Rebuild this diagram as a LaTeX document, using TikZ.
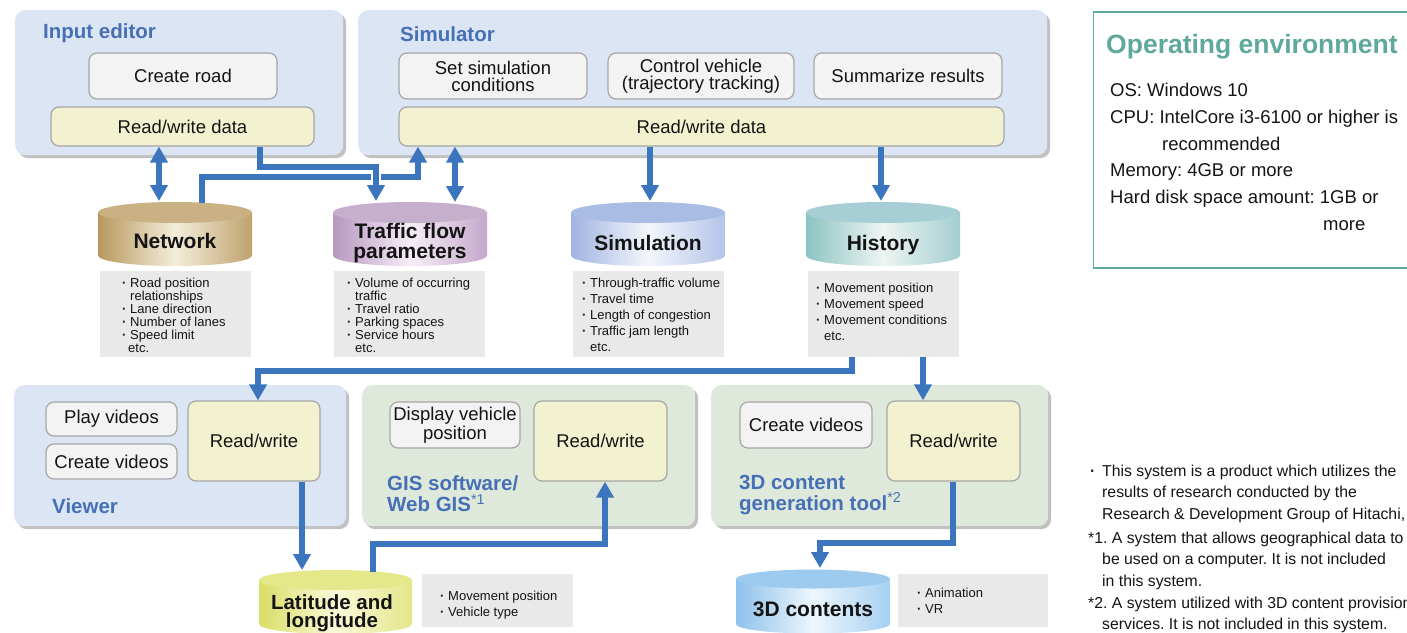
\documentclass[tikz,border=0pt]{standalone}
\usepackage{fontspec}
\setmainfont{Liberation Sans}
\usetikzlibrary{arrows.meta,shadows,calc}
\frenchspacing
\setlength{\lineskiplimit}{-20pt}
\definecolor{panelblue}{HTML}{DCE5F4}
\definecolor{panelgreen}{HTML}{DFE9DB}
\definecolor{boxgray}{HTML}{F3F3F3}
\definecolor{boxline}{HTML}{A6A6A6}
\definecolor{boxyellow}{HTML}{F2F2D1}
\definecolor{titleblue}{HTML}{4670B6}
\definecolor{arrowblue}{HTML}{3A75BE}
\definecolor{listgray}{HTML}{E9E9E9}
\definecolor{envteal}{HTML}{5EA89D}
\definecolor{envline}{HTML}{62AAA0}
\definecolor{ink}{HTML}{141414}
% cylinder colours
\definecolor{netTop}{HTML}{C9B184}\definecolor{netL}{HTML}{B8995E}\definecolor{netM}{HTML}{F4EDDB}\definecolor{netR}{HTML}{BFA26E}
\definecolor{tfTop}{HTML}{C6AECD}\definecolor{tfL}{HTML}{B796C0}\definecolor{tfM}{HTML}{F6EEF6}\definecolor{tfR}{HTML}{C4A8CC}
\definecolor{simTop}{HTML}{A9BDE4}\definecolor{simL}{HTML}{A0B4E0}\definecolor{simM}{HTML}{F4F6FC}\definecolor{simR}{HTML}{B4C4E8}
\definecolor{hisTop}{HTML}{A7CED4}\definecolor{hisL}{HTML}{8CC3C1}\definecolor{hisM}{HTML}{EEF5F3}\definecolor{hisR}{HTML}{A2CDD0}
\definecolor{latTop}{HTML}{E4E78A}\definecolor{latL}{HTML}{DADD66}\definecolor{latM}{HTML}{FAFADA}\definecolor{latR}{HTML}{E4E68A}
\definecolor{tdTop}{HTML}{9CCBEF}\definecolor{tdL}{HTML}{8DC1EC}\definecolor{tdM}{HTML}{EEF6FD}\definecolor{tdR}{HTML}{A6D0F2}

\newcommand{\fz}[2]{\fontsize{#1}{#2}\selectfont}
\newcommand{\tstrut}{\rule{0pt}{0.7\baselineskip}}
\newcommand{\bl}{\makebox[8pt][l]{\textbf{·}}}
\newcommand{\ind}{\hspace*{8pt}}
% cx, half width, top centre y, bottom centre y, ry, top colour, left, mid, right
\newcommand{\cylndr}[9]{%
  \shade[left color=#7, right color=#9, middle color=#8]
    ({#1-#2},#3) -- ({#1-#2},#4) arc[start angle=180, end angle=360, x radius=#2pt, y radius=#5pt]
    -- ({#1+#2},#3) -- cycle;
  \fill[#6] (#1,#3) ellipse[x radius=#2pt, y radius=#5pt];}

\begin{document}
\begin{tikzpicture}[x=1pt,y=-1pt,
  panelB/.style={fill=panelblue, rounded corners=10pt, inner sep=0, anchor=north west,
     drop shadow={shadow xshift=3pt, shadow yshift=-3pt, opacity=0.35, fill=black!70}},
  panelG/.style={panelB, fill=panelgreen},
  gbox/.style={draw=boxline, line width=1.2pt, fill=boxgray, rounded corners=8pt, inner sep=0,
     align=center, text=ink, font=\fz{18.5}{17}},
  ybox/.style={gbox, fill=boxyellow},
  ttl/.style={anchor=base west, inner sep=0, text=titleblue, font=\fz{20.5}{21}\bfseries},
  lst/.style={fill=listgray, inner sep=0, anchor=north west},
  ltx/.style={anchor=north west, inner sep=0, align=left, text=ink},
  cyl/.style={inner sep=0, align=center, text=ink, font=\fz{21}{20}\bfseries},
  arr/.style={draw=arrowblue, line width=5.5pt, -{Triangle[width=17pt,length=16pt]}},
  dbl/.style={draw=arrowblue, line width=5.5pt, {Triangle[width=17pt,length=16pt]}-{Triangle[width=17pt,length=16pt]}},
]
\useasboundingbox (0,0) rectangle (1407,632);
\clip (0,0) rectangle (1407,632);

% ---------------- upper panels
\node[panelB, minimum width=328pt, minimum height=145pt] (iep) at (15,10) {};
\node[panelB, minimum width=689pt, minimum height=145pt] (simp) at (358,10) {};
\node[ttl] (ieT) at (43,38.3) {Input editor};
\node[ttl] (simT) at (400,41.5) {Simulator};

\node[gbox, minimum width=188pt, minimum height=46pt] (cr) at (183,76) {Create road};
\node[ybox, minimum width=263pt, minimum height=39pt] (ierw) at (182.5,126.5) {Read/write data};
\node[gbox, minimum width=188pt, minimum height=46pt] (ssc) at (493,76) {Set simulation\\conditions};
\node[gbox, minimum width=186pt, minimum height=46pt] (cv) at (701,76) {Control vehicle\\(trajectory tracking)};
\node[gbox, minimum width=188pt, minimum height=46pt] (sr) at (908,76) {Summarize results};
\node[ybox, minimum width=605pt, minimum height=39pt] (simrw) at (701.5,126.5) {Read/write data};

% ---------------- cylinders
\cylndr{175}{77}{212.5}{255.5}{10.5}{netTop}{netL}{netM}{netR}
\cylndr{410}{77}{212.5}{255.5}{10.5}{tfTop}{tfL}{tfM}{tfR}
\cylndr{648}{77}{212.5}{255.5}{10.5}{simTop}{simL}{simM}{simR}
\cylndr{883}{77}{212.5}{255.5}{10.5}{hisTop}{hisL}{hisM}{hisR}
\cylndr{335.5}{76.5}{580}{624}{10}{latTop}{latL}{latM}{latR}
\cylndr{813}{77}{579}{624}{9.5}{tdTop}{tdL}{tdM}{tdR}
\node[cyl] (net) at (175,241) {Network};
\node[cyl] (tf) at (410,243) {Traffic flow\\parameters};
\node[cyl] (sim) at (648,243) {Simulation};
\node[cyl] (his) at (883,245) {History};
\node[cyl, font=\fz{20.5}{18}\bfseries] (lat) at (332,613) {Latitude and\\longitude};
\node[cyl] (td) at (813,609) {3D contents};

% ---------------- lists
\node[lst, minimum width=151pt, minimum height=86pt] (netl) at (100,271) {};
\node[ltx, font=\fz{13}{13}] (netlt) at (122,278.2) {\tstrut\bl Road position\\\ind relationships\\\bl Lane direction\\\bl Number of lanes\\\bl Speed limit\\\hspace*{6pt}etc.};
\node[lst, minimum width=151pt, minimum height=86pt] (tfl) at (334,271) {};
\node[ltx, font=\fz{13}{13}] (tflt) at (347,278.2) {\tstrut\bl Volume of occurring\\\ind traffic\\\bl Travel ratio\\\bl Parking spaces\\\bl Service hours\\\ind etc.};
\node[lst, minimum width=151pt, minimum height=86pt] (siml) at (573,271) {};
\node[ltx, font=\fz{13}{16}] (simlt) at (582,276.1) {\tstrut\bl Through-traffic volume\\\bl Travel time\\\bl Length of congestion\\\bl Traffic jam length\\\ind etc.};
\node[lst, minimum width=151pt, minimum height=86pt] (hisl) at (808,271) {};
\node[ltx, font=\fz{13}{16}] (hislt) at (816,281.1) {\tstrut\bl Movement position\\\bl Movement speed\\\bl Movement conditions\\\ind etc.};

% ---------------- lower panels
\node[panelB, minimum width=332pt, minimum height=141pt] (vwp) at (14,385) {};
\node[panelG, minimum width=333pt, minimum height=141pt] (gisp) at (362,385) {};
\node[panelG, minimum width=337pt, minimum height=141pt] (tdp) at (711,385) {};
\node[ttl] (vwT) at (52,513.3) {Viewer};
\node[ttl] (gisT1) at (387,490) {GIS software/};
\node[ttl] (gisT2) at (387,511.7) {Web GIS\textsuperscript{\mdseries *1}};
\node[ttl] (tdT1) at (739,489) {3D content};
\node[ttl] (tdT2) at (739,510) {generation tool\textsuperscript{\mdseries *2}};

\node[gbox, minimum width=131pt, minimum height=34pt] (pv) at (111.5,419) {Play videos};
\node[gbox, minimum width=131pt, minimum height=35pt] (cvid) at (111.5,461.5) {Create videos};
\node[ybox, minimum width=132pt, minimum height=80pt] (vrw) at (254,441) {Read/write};
\node[gbox, minimum width=130pt, minimum height=46pt, font=\fz{18.5}{19}] (dvp) at (455,425) {Display vehicle\\position};
\node[ybox, minimum width=133pt, minimum height=80pt] (grw) at (600.5,441) {Read/write};
\node[gbox, minimum width=132pt, minimum height=46pt] (tdcv) at (806,425) {Create videos};
\node[ybox, minimum width=133pt, minimum height=80pt] (tdrw) at (953.5,441) {Read/write};

\node[lst, minimum width=151pt, minimum height=53pt] (latl) at (422,574) {};
\node[ltx, font=\fz{13}{16}] (latlt) at (440,588.8) {\tstrut\bl Movement position\\\bl Vehicle type};
\node[lst, minimum width=150pt, minimum height=53pt] (tdl) at (898,574) {};
\node[ltx, font=\fz{13}{16}] (tdlt) at (917,586.1) {\tstrut\bl Animation\\\bl VR};

% ---------------- operating environment
\node[draw=envline, line width=1.5pt, anchor=north west, minimum width=340pt, minimum height=256pt, inner sep=0] (env) at (1092.5,11) {};
\node[anchor=base west, inner sep=0, text=envteal, font=\fz{26.5}{26}\bfseries] (envT) at (1106,53) {Operating environment};
\node[ltx, font=\fz{18.5}{26.7}] (envTx) at (1110,78) {\tstrut OS: Windows 10\\CPU: IntelCore i3-6100 or higher is\\\hspace*{52pt}recommended\\Memory: 4GB or more\\Hard disk space amount: 1GB or\\\hspace*{213pt}more};

% ---------------- footnotes
\node[ltx, font=\fz{15.8}{21.5}] (fn0) at (1090,461) {\tstrut\makebox[12pt][l]{\textbf{·}}This system is a product which utilizes the\\\hspace*{12pt}results of research conducted by the\\\hspace*{12pt}Research \& Development Group of Hitachi, Ltd.};
\node[ltx, font=\fz{15.8}{21.5}] (fn1) at (1088,528) {\tstrut *1. A system that allows geographical data to\\\hspace*{14pt}be used on a computer. It is not included\\\hspace*{14pt}in this system.};
\node[ltx, font=\fz{15.8}{21.5}] (fn2) at (1088,593) {\tstrut *2. A system utilized with 3D content provision\\\hspace*{14pt}services. It is not included in this system.};

% ---------------- connector anchor points
\coordinate (net1) at (159,201);
\coordinate (net2) at (202,203);
\coordinate (tf1) at (376,201);
\coordinate (tf2) at (455,202);
\coordinate (sim1) at (650,201);
\coordinate (his1) at (881,201);
\coordinate (kA) at (418,177);
\coordinate (kB) at (260,167);
\coordinate (kC) at (852,371);
\coordinate (kD) at (258,371);
\coordinate (kE) at (923,371);
\coordinate (lat1) at (302,570);
\coordinate (lat2) at (373,572);
\coordinate (kF) at (605,544);
\coordinate (td1) at (820,568);
\coordinate (kG) at (953,543);

% ---------------- connectors
\draw[dbl] (ierw.south -| net1) -- (net1);
\draw[arr] (net2) |- (kA) -- (kA |- simrw.south);
\fill[white] ($(tf1 |- kA)+(-5,-4)$) rectangle ($(tf1 |- kA)+(5,4)$);
\draw[arr] (ierw.south -| kB) |- (tf1 |- kB) -- (tf1);
\draw[dbl] (simrw.south -| tf2) -- (tf2);
\draw[arr] (simrw.south -| sim1) -- (sim1);
\draw[arr] (simrw.south -| his1) -- (his1);
\draw[arr] (hisl.south -| kC) |- (kD) -- (kD |- vrw.north);
\draw[arr] (hisl.south -| kE) -- (kE |- tdrw.north);
\draw[arr] (vrw.south -| lat1) -- (lat1);
\draw[arr] (lat2) |- (kF) -- (kF |- grw.south);
\draw[arr] (tdrw.south -| kG) |- (td1 |- kG) -- (td1);
\end{tikzpicture}
\end{document}
